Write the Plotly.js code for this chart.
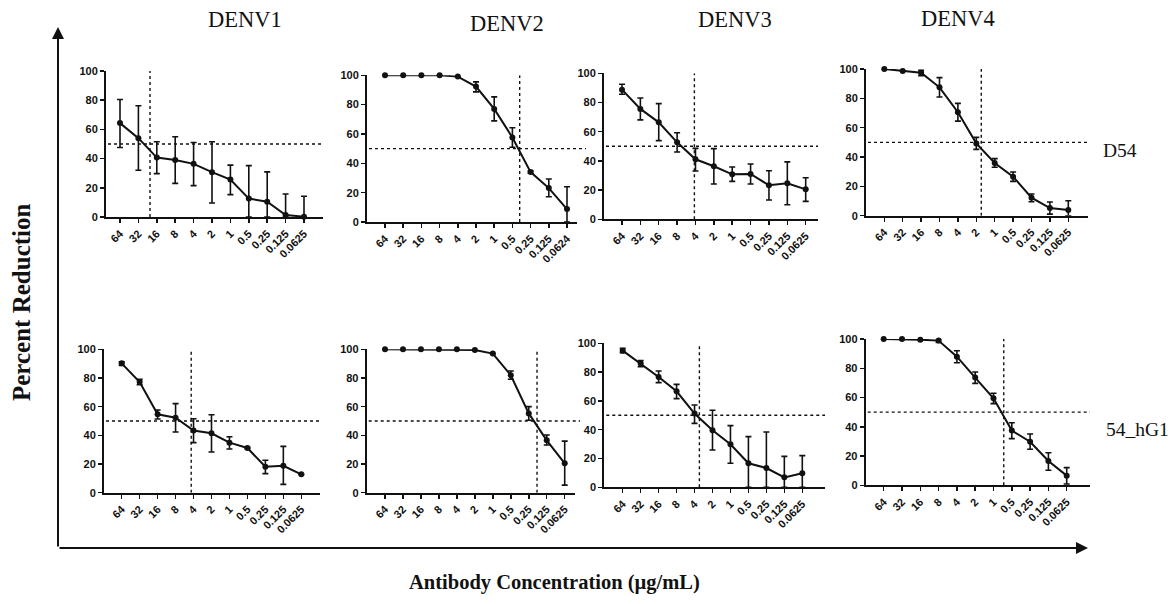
<!DOCTYPE html>
<html>
<head>
<meta charset="utf-8">
<script src="https://cdn.plot.ly/plotly-3.0.1.min.js"></script>
<style>html,body{margin:0;padding:0;background:#fff;}#chart{width:1172px;height:604px;}</style>
</head>
<body>
<div id="chart"></div>
<script>
// ---------- DATA ----------
const conc = ["64","32","16","8","4","2","1","0.5","0.25","0.125","0.0625"];
const concD2 = ["64","32","16","8","4","2","1","0.5","0.25","0.125","0.0624"];
const serotypes = ["DENV1","DENV2","DENV3","DENV4"];
const antibodies = ["D54","54_hG1"];

// D54
const d54_denv1 = [64.3, 54.0, 40.7, 39.1, 36.4, 30.7, 25.6, 12.6, 10.5, 1.4, 0.2];
const d54_denv1_errPlus  = [16.2, 22.2, 10.8, 15.9, 14.6, 20.8, 9.9, 22.6, 20.4, 14.4, 14.0];
const d54_denv1_errMinus = [16.7, 22.0, 11.0, 16.1, 14.9, 21.1, 10.3, 12.6, 10.5, 1.4, 0.2];

const d54_denv2 = [100, 100, 100, 100, 99.1, 92.3, 77.1, 57.6, 34.0, 23.1, 8.8];
const d54_denv2_errPlus  = [0, 0, 0, 0, 0, 3.2, 8.2, 6.6, 0.8, 6.2, 15.2];
const d54_denv2_errMinus = [0, 0, 0, 0, 0, 3.6, 8.2, 6.6, 0.8, 5.9, 8.8];

const d54_denv3 = [88.8, 75.6, 66.4, 52.7, 41.1, 36.3, 30.8, 31.1, 23.3, 24.7, 20.5];
const d54_denv3_errPlus  = [3.7, 7.5, 12.8, 6.6, 7.5, 12.1, 5.0, 6.8, 10.0, 14.6, 8.0];
const d54_denv3_errMinus = [3.2, 7.5, 12.5, 6.6, 8.0, 12.1, 4.8, 6.9, 10.1, 14.7, 8.2];

const d54_denv4 = [100, 98.6, 97.5, 87.5, 70.5, 49.3, 35.9, 26.6, 12.3, 5.2, 3.9];
const d54_denv4_errPlus  = [0, 0, 1.6, 6.6, 6.1, 4.1, 3.0, 3.2, 2.5, 4.1, 6.3];
const d54_denv4_errMinus = [0, 0, 2.0, 6.6, 6.0, 4.1, 2.9, 3.2, 2.8, 4.1, 3.9];

// 54_hG1
const hg1_denv1 = [90.2, 77.2, 54.7, 52.3, 43.3, 41.4, 34.9, 31.2, 18.1, 18.8, 12.8];
const hg1_denv1_errPlus  = [1.0, 1.8, 3.0, 9.8, 8.3, 13.0, 4.1, 0.5, 4.5, 13.5, 0];
const hg1_denv1_errMinus = [1.4, 1.9, 3.3, 10.0, 8.4, 13.0, 4.4, 0.5, 4.8, 13.0, 0];

const hg1_denv2 = [100, 100, 100, 100, 100, 99.5, 97.0, 81.9, 55.3, 36.5, 20.5];
const hg1_denv2_errPlus  = [0, 0, 0, 0, 0, 0, 0, 3.0, 4.7, 3.7, 15.5];
const hg1_denv2_errMinus = [0, 0, 0, 0, 0, 0, 0, 2.8, 4.8, 3.2, 15.2];

const hg1_denv3 = [94.9, 85.9, 76.6, 66.7, 51.2, 39.6, 29.9, 16.7, 13.4, 6.9, 9.7];
const hg1_denv3_errPlus  = [1.6, 2.1, 4.2, 4.8, 6.0, 13.9, 12.9, 18.5, 25.0, 14.6, 12.3];
const hg1_denv3_errMinus = [1.4, 2.1, 3.9, 5.1, 6.8, 13.7, 13.2, 16.7, 13.4, 6.9, 9.7];

const hg1_denv4 = [100, 100, 99.5, 98.9, 87.9, 73.6, 59.5, 37.4, 29.8, 16.6, 6.6];
const hg1_denv4_errPlus  = [0, 0, 0, 1.1, 4.1, 3.8, 3.4, 5.4, 5.3, 5.7, 5.5];
const hg1_denv4_errMinus = [0, 0, 0, 1.2, 4.1, 3.9, 3.7, 5.5, 5.2, 6.3, 5.7];

// 50% crossing positions (category index units)
const ec50Pos = [1.63, 7.4, 3.94, 5.27, 3.87, 8.46, 4.27, 6.56];

// ---------- LAYOUT ----------
const W = 1172, H = 604;
const panelData = [
  {cats: conc,   y: d54_denv1, ep: d54_denv1_errPlus, em: d54_denv1_errMinus},
  {cats: concD2, y: d54_denv2, ep: d54_denv2_errPlus, em: d54_denv2_errMinus},
  {cats: conc,   y: d54_denv3, ep: d54_denv3_errPlus, em: d54_denv3_errMinus},
  {cats: conc,   y: d54_denv4, ep: d54_denv4_errPlus, em: d54_denv4_errMinus},
  {cats: conc,   y: hg1_denv1, ep: hg1_denv1_errPlus, em: hg1_denv1_errMinus},
  {cats: conc,   y: hg1_denv2, ep: hg1_denv2_errPlus, em: hg1_denv2_errMinus},
  {cats: conc,   y: hg1_denv3, ep: hg1_denv3_errPlus, em: hg1_denv3_errMinus},
  {cats: conc,   y: hg1_denv4, ep: hg1_denv4_errPlus, em: hg1_denv4_errMinus}
];
// pixel geometry: yaxis x, axis end x, first tick x, tick spacing, y of 100, y of 0, hline end x
const geo = [
  {x0:106,   x1:323,  t0:120,   sp:18.4,  yt:71,    yb:217,   h1:323},
  {x0:367,   x1:577,  t0:385,   sp:18.2,  yt:75.3,  yb:222,   h1:586},
  {x0:604,   x1:818,  t0:622,   sp:18.37, yt:73.3,  yb:219.3, h1:818},
  {x0:866,   x1:1088, t0:884.3, sp:18.4,  yt:69,    yb:215.7, h1:1088},
  {x0:104,   x1:320,  t0:121.7, sp:17.96, yt:349.3, yb:492.7, h1:320},
  {x0:366.7, x1:575,  t0:385,   sp:17.97, yt:349.3, yb:492.7, h1:580},
  {x0:604.3, x1:825,  t0:622.7, sp:17.96, yt:343.3, yb:487.3, h1:825},
  {x0:865.7, x1:1090, t0:883.7, sp:18.3,  yt:339,   yb:485.3, h1:1090}
];

const ink = '#111';
const tickFont = {family: 'Liberation Sans, Arial, sans-serif', size: 11, color: ink, weight: 'bold'};
const traces = [];
const layout = {
  width: W, height: H, autosize: false,
  margin: {l:0, r:0, t:0, b:0, pad:0},
  paper_bgcolor: '#fff', plot_bgcolor: 'rgba(0,0,0,0)',
  showlegend: false,
  shapes: [], annotations: []
};

panelData.forEach((p, i) => {
  const g = geo[i];
  const n = i + 1;
  const xa = 'xaxis' + (n === 1 ? '' : n), ya = 'yaxis' + (n === 1 ? '' : n);
  const xr = 'x' + (n === 1 ? '' : n), yr = 'y' + (n === 1 ? '' : n);
  traces.push({
    type: 'scatter', mode: 'lines+markers',
    x: p.cats, y: p.y, xaxis: xr, yaxis: yr,
    line: {color: ink, width: 2},
    marker: {color: ink, size: 6},
    cliponaxis: false,
    error_y: {type: 'data', symmetric: false, array: p.ep, arrayminus: p.em,
              color: ink, thickness: 1.6, width: 3}
  });
  layout[xa] = {
    type: 'category',
    domain: [g.x0 / W, g.x1 / W],
    range: [(g.x0 - g.t0) / g.sp, (g.x1 - g.t0) / g.sp],
    anchor: yr, showline: true, linewidth: 2, linecolor: ink,
    showgrid: false, zeroline: false,
    ticks: 'outside', ticklen: 4, tickwidth: 1.5, tickcolor: ink,
    tickangle: -45, tickfont: tickFont, fixedrange: true
  };
  layout[ya] = {
    domain: [1 - g.yb / H, 1 - g.yt / H],
    range: [0, 100], tickvals: [0, 20, 40, 60, 80, 100],
    anchor: xr, showline: true, linewidth: 2, linecolor: ink,
    showgrid: false, zeroline: false,
    ticks: 'outside', ticklen: 4, tickwidth: 1.5, tickcolor: ink,
    tickfont: tickFont, fixedrange: true
  };
  // 50% horizontal dotted line
  layout.shapes.push({type: 'line', xref: 'paper', yref: yr,
    x0: (g.x0 + 2) / W, x1: g.h1 / W, y0: 50, y1: 50,
    line: {color: ink, width: 1.4, dash: 'dot'}});
  // vertical dotted line at 50% crossing
  layout.shapes.push({type: 'line', xref: xr, yref: yr,
    x0: ec50Pos[i], x1: ec50Pos[i], y0: 0, y1: 100,
    line: {color: ink, width: 1.4, dash: 'dot'}});
});

// Column titles
const titleFont = {family: 'Liberation Serif, Times New Roman, serif', size: 22.5, color: ink};
const rowFont = {family: 'Liberation Serif, Times New Roman, serif', size: 19.5, color: ink};
const titlePos = [[245, 20], [507, 24], [735, 20], [958, 18]];
serotypes.forEach((s, k) => {
  layout.annotations.push({text: s, xref: 'paper', yref: 'paper',
    x: titlePos[k][0] / W, y: 1 - titlePos[k][1] / H, showarrow: false,
    xanchor: 'center', yanchor: 'middle', font: titleFont});
});
// Row labels
layout.annotations.push({text: antibodies[0], xref: 'paper', yref: 'paper',
  x: 1101 / W, y: 1 - 150 / H, showarrow: false, xanchor: 'left', yanchor: 'middle', font: rowFont});
layout.annotations.push({text: antibodies[1], xref: 'paper', yref: 'paper',
  x: 1104 / W, y: 1 - 429 / H, showarrow: false, xanchor: 'left', yanchor: 'middle', font: rowFont});

// Global axis titles
const boldSerifV = {family: 'Liberation Serif, Times New Roman, serif', size: 25, color: ink, weight: 'bold'};
const boldSerifH = {family: 'Liberation Serif, Times New Roman, serif', size: 20.5, color: ink, weight: 'bold'};
layout.annotations.push({text: 'Percent Reduction', xref: 'paper', yref: 'paper',
  x: 21 / W, y: 1 - 302 / H, showarrow: false, textangle: -90,
  xanchor: 'center', yanchor: 'middle', font: boldSerifV});
layout.annotations.push({text: 'Antibody Concentration (µg/mL)', xref: 'paper', yref: 'paper',
  x: 554 / W, y: 1 - 582 / H, showarrow: false,
  xanchor: 'center', yanchor: 'middle', font: boldSerifH});

// Big frame arrows
layout.annotations.push({text: '', xref: 'paper', yref: 'paper',
  x: 58 / W, y: 1 - 27 / H, ax: 0, ay: 521, axref: 'pixel', ayref: 'pixel',
  showarrow: true, arrowhead: 2, arrowsize: 1.2, arrowwidth: 2, arrowcolor: ink, standoff: 0, startstandoff: 0});
layout.annotations.push({text: '', xref: 'paper', yref: 'paper',
  x: 1088 / W, y: 1 - 548 / H, ax: -1030, ay: 0, axref: 'pixel', ayref: 'pixel',
  showarrow: true, arrowhead: 2, arrowsize: 1.2, arrowwidth: 2, arrowcolor: ink, standoff: 0, startstandoff: 0});

Plotly.newPlot('chart', traces, layout, {displayModeBar: false, staticPlot: true});
</script>
</body>
</html>
